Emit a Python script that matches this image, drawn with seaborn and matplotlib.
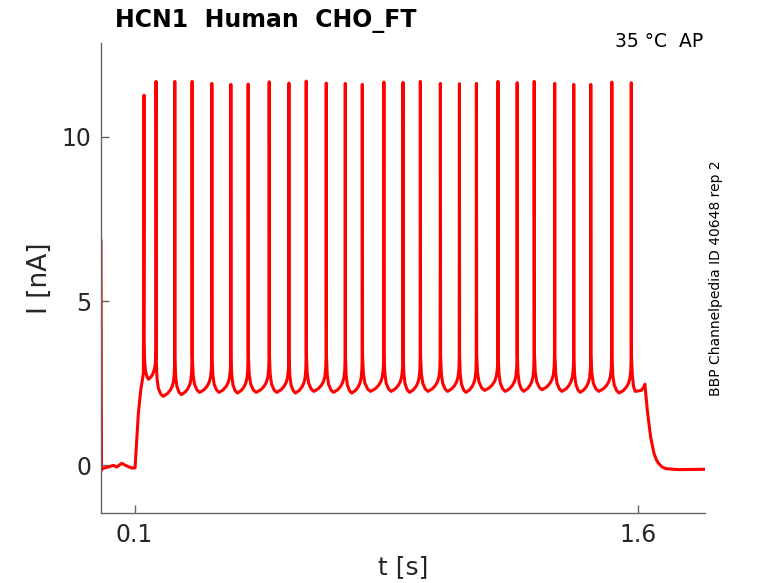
import matplotlib
matplotlib.use("Agg")
import matplotlib.pyplot as plt
import seaborn as sns
import pandas as pd

# ---- data ----
title = "HCN1  Human  CHO_FT"
condition = "35 °C  AP"
side_note = "BBP Channelpedia ID 40648 rep 2"

# pre-stimulus baseline incl. capacitive transient at t=0
base_t = [0.0, 0.0015, 0.0021, 0.0218, 0.0368, 0.0469, 0.0618, 0.0767, 0.0916, 0.1015]
base_v = [6.85, -0.15, -0.10, -0.05, 0.00, -0.05, 0.06, -0.02, -0.08, -0.08]

# rising phase at stimulus onset
ramp_t = [0.1066, 0.1113, 0.1185, 0.1263]
ramp_v = [0.76, 1.58, 2.29, 2.80]

# spike times [s] and peak currents [nA]
spike_t = [0.1283, 0.1641, 0.2199, 0.2715, 0.3303, 0.3870, 0.4386, 0.5013, 0.5600,
           0.6116, 0.6713, 0.7280, 0.7787, 0.8430, 0.9001, 0.9517, 1.0114, 1.0681,
           1.1188, 1.1831, 1.2402, 1.2910, 1.3521, 1.4089, 1.4596, 1.5223, 1.5803]
spike_peak = [11.26, 11.68, 11.68, 11.68, 11.62, 11.59, 11.60, 11.67, 11.63,
              11.69, 11.63, 11.62, 11.59, 11.66, 11.65, 11.68, 11.62, 11.61,
              11.62, 11.68, 11.64, 11.68, 11.62, 11.59, 11.59, 11.66, 11.64]
# trough level between successive spikes
trough_v = [2.62, 2.10, 2.15, 2.22, 2.22, 2.20, 2.22, 2.22, 2.20, 2.25, 2.22, 2.20, 2.25,
            2.25, 2.22, 2.25, 2.25, 2.22, 2.28, 2.25, 2.25, 2.30, 2.25, 2.22, 2.25, 2.20]
# inter-spike waveform: fraction of the interval and level above the trough
isi_frac = [0.012, 0.05, 0.12, 0.25, 0.38, 0.60, 0.75, 0.86, 0.93, 0.975, 0.99]
isi_rel = [1.10, 0.55, 0.25, 0.07, 0.00, 0.08, 0.18, 0.30, 0.45, 0.70, 1.05]

# after the last spike: end of stimulus and decay
tail_t = [1.5810, 1.5835, 1.5870, 1.5920, 1.6100, 1.6185, 1.6209, 1.6280, 1.6380, 1.6480,
          1.6560, 1.6625, 1.6720, 1.6830, 1.7200, 1.8000]
tail_v = [3.30, 2.75, 2.40, 2.25, 2.28, 2.40, 2.47, 1.68, 0.86, 0.36, 0.15, 0.05, -0.05,
          -0.10, -0.13, -0.12]

# ---- assemble trace vertices ----
t_all = list(base_t) + list(ramp_t)
v_all = list(base_v) + list(ramp_v)
for k in range(len(spike_t)):
    t_all.append(spike_t[k])
    v_all.append(spike_peak[k])
    if k < len(spike_t) - 1:
        T = spike_t[k + 1] - spike_t[k]
        for f, r in zip(isi_frac, isi_rel):
            t_all.append(spike_t[k] + f * T)
            v_all.append(trough_v[k] + r)
t_all += tail_t
v_all += tail_v

df = pd.DataFrame({"t": t_all, "I": v_all})

sns.set_theme(style="ticks")
plt.rcParams["font.family"] = ["DejaVu Sans"]

fig = plt.figure(figsize=(7.78, 5.83), dpi=100)
ax = fig.add_axes([101 / 778, 1 - 513 / 583, (705 - 101) / 778, (513 - 43) / 583])

sns.lineplot(data=df, x="t", y="I", sort=False, estimator=None, color="#ff0000",
             linewidth=2.2, ax=ax)

ax.set_xlim(0.0, 1.80)
ax.set_ylim(-1.45, 12.85)
ax.set_xticks([0.1, 1.6])
ax.set_xticklabels(["0.1", "1.6"])
ax.set_yticks([0, 5, 10])
ax.set_yticklabels(["0", "5", "10"])
ax.tick_params(direction="in", length=6, width=1, colors="#666666",
               labelcolor="#262626", labelsize=17, pad=7)
for s in ["top", "right"]:
    ax.spines[s].set_visible(False)
for s in ["left", "bottom"]:
    ax.spines[s].set_color("#666666")
    ax.spines[s].set_linewidth(1.0)

ax.set_xlabel("t [s]", fontsize=18, color="#262626", labelpad=6)
ax.set_ylabel("I [nA]", fontsize=19, color="#262626", labelpad=6)

fig.text(115 / 778, 1 - 27 / 583, title, fontsize=17, fontweight="bold",
         color="black", ha="left", va="baseline")
fig.text(703 / 778, 1 - 47 / 583, condition, fontsize=13.5, color="black",
         ha="right", va="baseline")
fig.text(716 / 778, 1 - 278 / 583, side_note, fontsize=10, color="black",
         rotation=90, ha="center", va="center")

fig.savefig("out.png", dpi=100)
